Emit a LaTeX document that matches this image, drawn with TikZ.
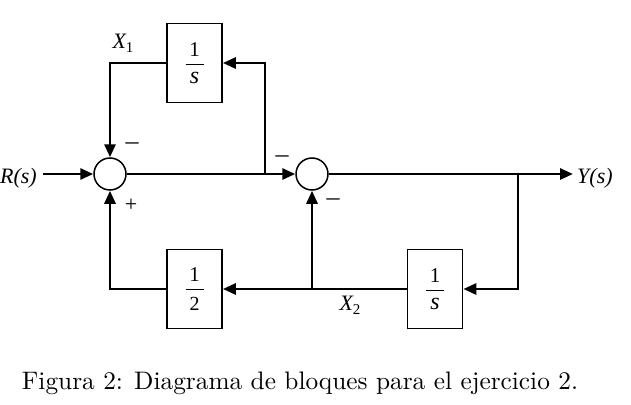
\documentclass[tikz,border=0pt]{standalone}
\usepackage{fontspec}
\usepackage{graphicx}
\newfontfamily\tms{Liberation Serif}
\usetikzlibrary{arrows.meta}
\newcommand\frc[2]{\vbox{\offinterlineskip\halign{\hfil##\hfil\cr {\fontsize{21}{21}\selectfont #1}\cr\noalign{\kern7.5pt}\rule{18pt}{1.3pt}\cr\noalign{\kern7pt}#2\cr}}}
\begin{document}
\begin{tikzpicture}[x=1pt,y=-1pt,
  sig/.style={line width=2.9pt},
  arr/.style={sig,-{Triangle[length=13pt,width=11pt]}},
  sumj/.style={circle,draw,line width=1.5pt,minimum size=32pt,inner sep=0pt},
  blk/.style={draw,line width=1.7pt,minimum width=55pt,minimum height=79pt,inner sep=0pt,font=\tms},
  lbl/.style={font=\tms\fontsize{22}{24}\selectfont,inner sep=0pt},
  sgn/.style={font=\tms\fontsize{26}{28}\selectfont,inner sep=0pt}]
\useasboundingbox (0,0) rectangle (631,404);
% summing junctions
\node[sumj] (s1) at (110,174) {};
\node[sumj] (s2) at (312,174) {};
% blocks
\node[blk] (b1) at (194.5,63) {\frc{1}{\fontsize{24}{24}\selectfont\itshape s}};
\node[blk] (b2) at (194.5,289) {\frc{1}{\fontsize{20}{20}\selectfont 2}};
\node[blk] (b3) at (435,289) {\frc{1}{\fontsize{24}{24}\selectfont\itshape s}};
% input / output
\node[lbl,anchor=east] (R) at (37,178) {\itshape R(s)};
\node[lbl,anchor=west] (Y) at (577,178) {\itshape Y(s)};
\coordinate (rin) at (43,174);
\coordinate (yout) at (573,174);
\coordinate (j1) at (265,174);
\coordinate (j2) at (518,174);
% connectors
\draw[arr] (rin) -- (s1.west);
\draw[arr] (s1.east) -- (s2.west);
\draw[arr] (s2.east) -- (yout);
\draw[arr] (j1) |- (b1.east);
\draw[arr] (b1.west) -| (s1.north);
\draw[arr] (j2) |- (b3.east);
\draw[arr] (b3.west) -- (b2.east);
\draw[arr] (s2 |- b2.east) -- (s2.south);
\draw[arr] (b2.west) -| (s1.south);
% signs and labels
\node[sgn] (m1) at (132,146) {–};
\node[lbl] (p1) at (131,205) {+};
\node[sgn] (m2) at (282,159) {–};
\node[sgn] (m3) at (333,202) {–};
\node[lbl] (x1) at (123,43) {\itshape X\raisebox{-4pt}{\upshape\fontsize{15}{15}\selectfont 1}};
\node[lbl] (x2) at (350,305) {\itshape X\raisebox{-4pt}{\upshape\fontsize{15}{15}\selectfont 2}};
% caption
\node[anchor=base,inner sep=0pt] (cap) at (300,389) {\resizebox{556pt}{!}{Figura 2: Diagrama de bloques para el ejercicio 2.}};
\end{tikzpicture}
\end{document}
